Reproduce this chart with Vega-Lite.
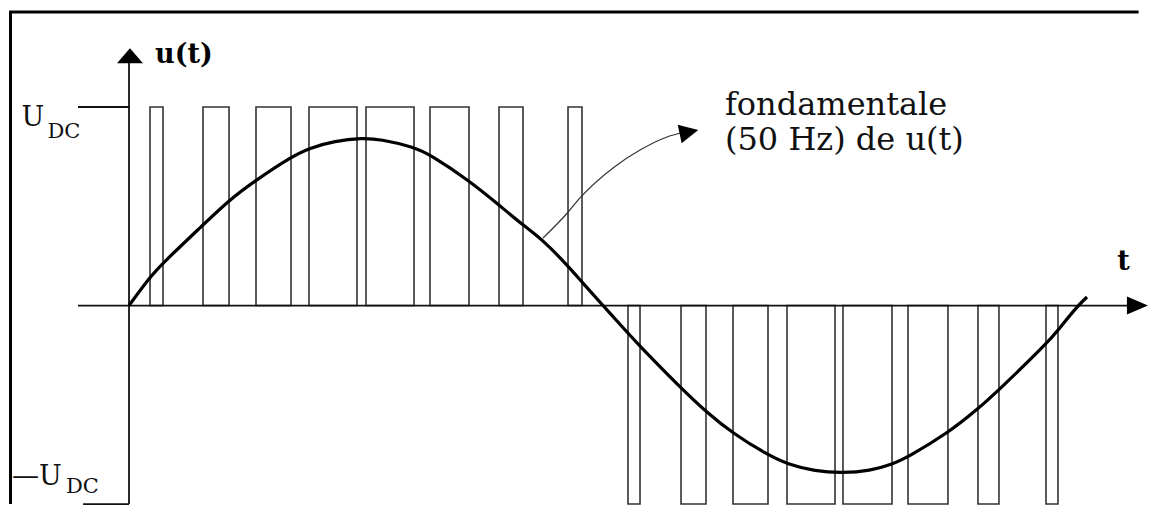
{
  "$schema": "https://vega.github.io/schema/vega-lite/v6.json",
  "width": 1155,
  "height": 514,
  "autosize": {"type": "fit", "contains": "padding"},
  "padding": 0,
  "background": "white",
  "config": {"view": {"stroke": null}},
  "datasets": {
    "frame": [
      {"name": "top", "t": -2.53, "t2": 21.3, "u": 1.4786, "u2": 1.4786},
      {"name": "left", "t": -2.5, "t2": -2.5, "u": 1.4786, "u2": -1.0}
    ],
    "axes": [
      {"name": "t axis", "t": -1.076, "t2": 21.15, "u": 0, "u2": 0},
      {"name": "u axis", "t": 0, "t2": 0, "u": 1.222, "u2": -1.0},
      {"name": "UDC", "t": -1.076, "t2": 0, "u": 1, "u2": 1},
      {"name": "-UDC", "t": -0.97, "t2": 0, "u": -1, "u2": -1}
    ],
    "pulses": [
      {"t": 0.443, "t2": 0.717, "u": 1},
      {"t": 1.561, "t2": 2.110, "u": 1},
      {"t": 2.679, "t2": 3.418, "u": 1},
      {"t": 3.797, "t2": 4.810, "u": 1},
      {"t": 5.000, "t2": 6.013, "u": 1},
      {"t": 6.350, "t2": 7.173, "u": 1},
      {"t": 7.806, "t2": 8.312, "u": 1},
      {"t": 9.262, "t2": 9.557, "u": 1},
      {"t": 10.527, "t2": 10.781, "u": -1},
      {"t": 11.646, "t2": 12.173, "u": -1},
      {"t": 12.743, "t2": 13.481, "u": -1},
      {"t": 13.882, "t2": 14.895, "u": -1},
      {"t": 15.063, "t2": 16.097, "u": -1},
      {"t": 16.435, "t2": 17.278, "u": -1},
      {"t": 17.911, "t2": 18.354, "u": -1},
      {"t": 19.346, "t2": 19.599, "u": -1}
    ],
    "fundamental": [
      {"t": 0.0, "u": 0.0},
      {"t": 0.443, "u": 0.144},
      {"t": 0.696, "u": 0.210},
      {"t": 1.561, "u": 0.406},
      {"t": 2.110, "u": 0.531},
      {"t": 2.679, "u": 0.632},
      {"t": 3.418, "u": 0.748},
      {"t": 3.797, "u": 0.793},
      {"t": 4.346, "u": 0.829},
      {"t": 4.916, "u": 0.844},
      {"t": 5.295, "u": 0.838},
      {"t": 6.013, "u": 0.798},
      {"t": 6.350, "u": 0.760},
      {"t": 7.173, "u": 0.630},
      {"t": 7.806, "u": 0.506},
      {"t": 8.312, "u": 0.405},
      {"t": 8.734, "u": 0.330},
      {"t": 9.262, "u": 0.199},
      {"t": 9.557, "u": 0.118},
      {"t": 10.0, "u": 0.0},
      {"t": 10.527, "u": -0.139},
      {"t": 10.781, "u": -0.205},
      {"t": 11.646, "u": -0.416},
      {"t": 12.173, "u": -0.535},
      {"t": 12.743, "u": -0.645},
      {"t": 13.481, "u": -0.753},
      {"t": 13.882, "u": -0.798},
      {"t": 14.473, "u": -0.835},
      {"t": 15.063, "u": -0.844},
      {"t": 15.633, "u": -0.832},
      {"t": 16.097, "u": -0.800},
      {"t": 16.435, "u": -0.763},
      {"t": 17.257, "u": -0.645},
      {"t": 17.890, "u": -0.525},
      {"t": 18.376, "u": -0.420},
      {"t": 19.367, "u": -0.190},
      {"t": 19.599, "u": -0.125},
      {"t": 19.98, "u": -0.01},
      {"t": 20.211, "u": 0.043}
    ],
    "callout": [
      {"t": 8.734, "u": 0.340},
      {"t": 9.262, "u": 0.470},
      {"t": 9.515, "u": 0.542},
      {"t": 10.211, "u": 0.693},
      {"t": 10.781, "u": 0.783},
      {"t": 11.350, "u": 0.849},
      {"t": 11.730, "u": 0.874}
    ],
    "uArrow": [{"t": 0.02, "u": 1.257}],
    "tArrow": [{"t": 21.276, "u": 0}],
    "calloutHead": [{"t": 11.814, "u": 0.874}],
    "bigLabels": [
      {"label": "U", "t": -2.267, "u": 0.904},
      {"label": "—U", "t": -2.468, "u": -0.904}
    ],
    "subLabels": [
      {"label": "DC", "t": -1.72, "u": 0.844},
      {"label": "DC", "t": -1.33, "u": -0.945}
    ],
    "axisLabels": [
      {"label": "u(t)", "t": 0.549, "u": 1.222},
      {"label": "t", "t": 20.85, "u": 0.179}
    ],
    "note": [
      {"label": "fondamentale", "t": 12.574, "u": 0.960},
      {"label": "(50 Hz) de u(t)", "t": 12.574, "u": 0.783}
    ]
  },
  "encoding": {
    "x": {"field": "t", "type": "quantitative", "scale": {"domain": [-2.722, 21.646], "nice": false, "zero": false}, "axis": null},
    "y": {"field": "u", "type": "quantitative", "scale": {"domain": [-1.05, 1.539], "nice": false, "zero": false}, "axis": null}
  },
  "layer": [
    {
      "data": {"name": "frame"},
      "mark": {"type": "rule", "color": "#000", "strokeWidth": 3},
      "encoding": {"x2": {"field": "t2"}, "y2": {"field": "u2"}}
    },
    {
      "data": {"name": "pulses"},
      "mark": {"type": "rect", "fill": "transparent", "stroke": "#333", "strokeWidth": 1.6},
      "encoding": {"x2": {"field": "t2"}, "y2": {"datum": 0}}
    },
    {
      "data": {"name": "axes"},
      "mark": {"type": "rule", "color": "#111", "strokeWidth": 1.8},
      "encoding": {"x2": {"field": "t2"}, "y2": {"field": "u2"}}
    },
    {
      "data": {"name": "fundamental"},
      "mark": {"type": "line", "color": "#000", "strokeWidth": 3.2, "interpolate": "basis"},
      "encoding": {}
    },
    {
      "data": {"name": "callout"},
      "mark": {"type": "line", "color": "#333", "strokeWidth": 1.2, "interpolate": "monotone"},
      "encoding": {}
    },
    {
      "data": {"name": "uArrow"},
      "mark": {"type": "point", "shape": "M-1,0.55L1,0.55L0,-0.6Z", "size": 676, "filled": true, "color": "#000", "opacity": 1}
    },
    {
      "data": {"name": "tArrow"},
      "mark": {"type": "point", "shape": "M-1,-0.85L1,0L-1,0.85Z", "size": 441, "filled": true, "color": "#000", "opacity": 1}
    },
    {
      "data": {"name": "calloutHead"},
      "mark": {"type": "point", "shape": "M-1,-1L1,0L-1,1Z", "size": 361, "angle": -12, "filled": true, "color": "#000", "opacity": 1}
    },
    {
      "data": {"name": "bigLabels"},
      "mark": {"type": "text", "font": "DejaVu Serif", "fontSize": 27, "align": "left", "baseline": "alphabetic", "color": "#111"},
      "encoding": {"text": {"field": "label"}}
    },
    {
      "data": {"name": "subLabels"},
      "mark": {"type": "text", "font": "DejaVu Serif", "fontSize": 21, "align": "left", "baseline": "alphabetic", "color": "#111"},
      "encoding": {"text": {"field": "label"}}
    },
    {
      "data": {"name": "axisLabels"},
      "mark": {"type": "text", "font": "DejaVu Serif", "fontSize": 27, "fontWeight": "bold", "align": "left", "baseline": "alphabetic", "color": "#000"},
      "encoding": {"text": {"field": "label"}}
    },
    {
      "data": {"name": "note"},
      "mark": {"type": "text", "font": "DejaVu Serif", "fontSize": 32, "align": "left", "baseline": "alphabetic", "color": "#111"},
      "encoding": {"text": {"field": "label"}}
    }
  ]
}
